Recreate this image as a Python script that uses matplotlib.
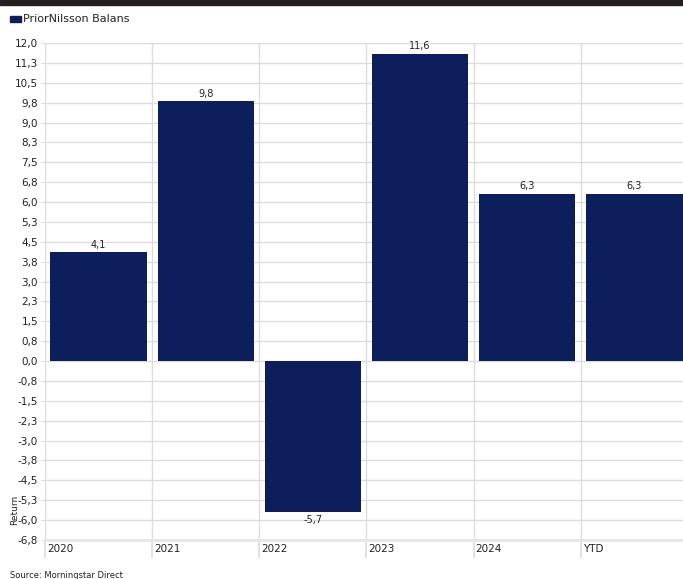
import matplotlib.pyplot as plt
from matplotlib.patches import Rectangle
import numpy as np

# data
categories = ['2020', '2021', '2022', '2023', '2024', 'YTD']
returns = [4.1, 9.8, -5.7, 11.6, 6.3, 6.3]
yticks = [12.0, 11.25, 10.5, 9.75, 9.0, 8.25, 7.5, 6.75, 6.0, 5.25, 4.5, 3.75, 3.0,
          2.25, 1.5, 0.75, 0.0, -0.75, -1.5, -2.25, -3.0, -3.75, -4.5, -5.25, -6.0, -6.75]
ytick_labels = ['12,0', '11,3', '10,5', '9,8', '9,0', '8,3', '7,5', '6,8', '6,0', '5,3', '4,5',
                '3,8', '3,0', '2,3', '1,5', '0,8', '0,0', '-0,8', '-1,5', '-2,3', '-3,0',
                '-3,8', '-4,5', '-5,3', '-6,0', '-6,8']

bar_color = '#0c1f5c'
grid_color = '#dcdcdc'
W, H = 683, 579

plt.rcParams['font.family'] = 'DejaVu Sans'
fig = plt.figure(figsize=(W / 100, H / 100), dpi=100)

# black strip at the top
fig.patches.append(Rectangle((0, 1 - 5 / H), 1, 5 / H, transform=fig.transFigure,
                             color='#231f20', zorder=0))

ax = fig.add_axes([45 / W, 1 - 540 / H, (688 - 45) / W, (540 - 43) / H])
x = np.arange(len(categories))
ax.bar(x, returns, width=0.9, color=bar_color, zorder=3)

for xi, v in zip(x, returns):
    lbl = f'{v:.1f}'.replace('.', ',')
    if v >= 0:
        ax.text(xi, v + 0.1, lbl, ha='center', va='bottom', fontsize=7, color='#222222')
    else:
        ax.text(xi, v - 0.1, lbl, ha='center', va='top', fontsize=7, color='#222222')

ax.set_xlim(-0.5, len(categories) - 0.5)
ax.set_ylim(-6.75, 12.0)
ax.set_yticks(yticks)
ax.set_yticklabels(ytick_labels, fontsize=7.5, color='#222222')
ax.tick_params(axis='y', length=3, color=grid_color, pad=2)

bounds = np.arange(len(categories) + 1) - 0.5
ax.set_xticks(bounds)
ax.set_xticklabels([])
ax.tick_params(axis='x', length=13, color=grid_color, width=1.2)
for b, c in zip(bounds, categories):
    ax.annotate(c, xy=(b, 0), xycoords=ax.get_xaxis_transform(), xytext=(1.5, -3),
                textcoords='offset points', ha='left', va='top',
                fontsize=7.5, color='#222222')

ax.grid(True, color=grid_color, linewidth=1, zorder=0)
for s in ['top', 'right']:
    ax.spines[s].set_visible(False)
ax.spines['bottom'].set_color('#e6e6e6')
ax.spines['bottom'].set_linewidth(2)
ax.spines['left'].set_color(grid_color)

ax.set_ylabel('Return', fontsize=6.5, color='#222222')
ax.yaxis.set_label_coords(-0.04, 0.06)

# legend
fig.patches.append(Rectangle((10 / W, 1 - 22 / H), 11 / W, 6 / H, transform=fig.transFigure,
                             color=bar_color))
fig.text(23 / W, 1 - 19 / H, 'PriorNilsson Balans', fontsize=8, va='center', ha='left',
         color='#222222')

fig.text(10 / W, 1 - 575 / H, 'Source: Morningstar Direct', fontsize=6, va='center',
         ha='left', color='#222222')

fig.savefig('out.png', dpi=100)
